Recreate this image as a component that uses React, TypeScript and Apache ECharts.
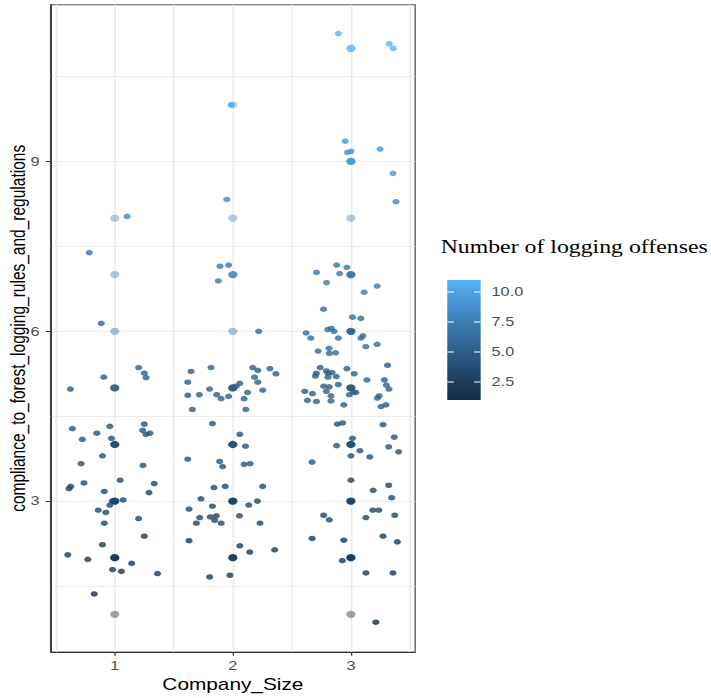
import React, { useEffect, useRef } from "react";
import * as echarts from "echarts";

// ---- data ----
const companySizes = [1, 2, 3];
const complianceTicks = [3, 6, 9];
const xGridValues = [0.5, 1, 1.5, 2, 2.5, 3, 3.5];
const yGridValues = [1.5, 3, 4.5, 6, 7.5, 9, 10.5];
const legendTicks = [2.5, 5, 7.5, 10];
const legendTickLabels = ["2.5", "5.0", "7.5", "10.0"];
const offenseRange = [1, 11];

// [Company_Size (jittered), compliance (jittered), number of logging offenses]
const size1Points = [
  [1.104, 8.03, 8], [0.784, 7.39, 7], [0.885, 6.14, 6], [1.202, 5.36, 5],
  [1.25, 5.26, 5], [1.265, 5.18, 5], [0.907, 5.19, 5], [0.624, 4.98, 5],
  [0.641, 4.28, 4], [0.958, 4.32, 4], [1.25, 4.36, 4], [1.236, 4.25, 4],
  [1.264, 4.18, 4], [1.298, 4.2, 4], [0.848, 4.2, 4], [0.725, 4.09, 4],
  [0.972, 4.11, 4], [0.896, 3.8, 4], [0.714, 3.66, 4], [1.239, 3.63, 4],
  [1.045, 3.37, 3], [1.334, 3.31, 3], [0.739, 3.32, 3], [0.627, 3.26, 3],
  [0.612, 3.22, 3], [0.911, 3.17, 3], [1.29, 3.15, 3], [0.978, 3.0, 3],
  [1.071, 3.02, 3], [0.958, 2.93, 3], [0.86, 2.84, 3], [0.924, 2.8, 3],
  [1.202, 2.69, 3], [0.911, 2.61, 3], [1.25, 2.38, 2], [0.896, 2.23, 2],
  [0.602, 2.05, 2], [0.772, 1.97, 2], [1.143, 1.9, 2], [0.981, 1.79, 2],
  [1.056, 1.76, 2], [1.362, 1.72, 2], [0.826, 1.36, 1],
];

const size2Points = [
  [1.986, 10.0, 10], [1.949, 8.33, 8], [1.891, 7.15, 7], [1.964, 7.17, 7],
  [1.877, 6.89, 7], [2.219, 6.0, 6], [1.646, 5.29, 5], [1.815, 5.36, 5],
  [2.168, 5.36, 5], [2.211, 5.31, 5], [2.314, 5.34, 5], [2.365, 5.25, 5],
  [2.183, 5.19, 5], [1.618, 5.1, 5], [2.211, 5.1, 5], [2.059, 5.08, 5],
  [2.028, 5.03, 5], [1.803, 4.98, 5], [2.253, 4.96, 5], [2.124, 4.92, 5],
  [1.618, 4.87, 5], [1.716, 4.88, 5], [1.863, 4.88, 5], [1.901, 4.81, 5],
  [1.964, 4.85, 5], [2.095, 4.81, 5], [1.657, 4.62, 5], [2.11, 4.62, 5],
  [1.827, 4.37, 4], [2.059, 4.18, 4], [2.107, 3.97, 4], [1.618, 3.74, 4],
  [1.888, 3.7, 4], [1.913, 3.61, 4], [2.095, 3.65, 4], [2.146, 3.66, 4],
  [1.84, 3.24, 3], [1.935, 3.26, 3], [2.253, 3.26, 3], [1.73, 3.04, 3],
  [2.208, 3.0, 3], [2.135, 2.93, 3], [1.629, 2.86, 3], [1.827, 2.91, 3],
  [2.056, 2.74, 3], [1.719, 2.71, 3], [1.809, 2.72, 3], [1.86, 2.74, 3],
  [1.846, 2.66, 3], [1.901, 2.61, 3], [1.691, 2.61, 3], [2.23, 2.61, 3],
  [1.629, 2.3, 2], [2.059, 2.21, 2], [2.143, 2.1, 2], [2.354, 2.14, 2],
  [1.975, 1.69, 2], [1.803, 1.66, 2],
];

const size3Points = [
  [2.893, 11.26, 11], [3.325, 11.08, 11], [3.359, 11.0, 11], [2.951, 9.36, 9],
  [2.97, 9.16, 9], [3.0, 9.18, 9], [3.247, 9.22, 9], [3.356, 8.79, 9],
  [3.382, 8.29, 8], [2.879, 7.17, 7], [2.966, 7.13, 7], [2.708, 7.04, 7],
  [2.904, 7.02, 7], [2.794, 6.86, 7], [3.222, 6.8, 7], [3.112, 6.69, 7],
  [2.768, 6.39, 6], [3.013, 6.25, 6], [3.084, 6.23, 6], [2.803, 6.03, 6],
  [2.834, 6.05, 6], [2.857, 6.0, 6], [2.62, 5.97, 6], [2.66, 5.88, 6],
  [2.893, 5.88, 6], [3.084, 5.88, 6], [3.101, 5.92, 6], [3.126, 5.73, 6],
  [3.222, 5.77, 6], [2.722, 5.65, 6], [2.815, 5.7, 6], [2.817, 5.61, 6],
  [2.87, 5.62, 6], [3.31, 5.4, 5], [2.74, 5.36, 5], [2.966, 5.34, 5],
  [2.792, 5.3, 5], [2.806, 5.26, 5], [2.84, 5.27, 5], [2.707, 5.26, 5],
  [2.699, 5.21, 5], [3.028, 5.25, 5], [2.806, 5.19, 5], [2.876, 5.2, 5],
  [3.135, 5.14, 5], [3.283, 5.14, 5], [2.893, 5.06, 5], [2.77, 5.03, 5],
  [2.817, 5.02, 5], [3.3, 5.05, 5], [2.792, 4.94, 5], [3.022, 4.92, 5],
  [3.042, 4.92, 5], [3.323, 4.98, 5], [2.609, 4.94, 5], [2.674, 4.9, 5],
  [2.831, 4.86, 5], [2.987, 4.88, 5], [3.239, 4.86, 5], [3.224, 4.82, 5],
  [2.632, 4.78, 5], [2.708, 4.76, 5], [2.831, 4.77, 5], [2.94, 4.7, 5],
  [3.255, 4.67, 5], [3.297, 4.7, 5], [2.885, 4.36, 4], [2.929, 4.38, 4],
  [3.272, 4.35, 4], [3.013, 4.11, 4], [3.367, 4.13, 4], [2.879, 3.98, 4],
  [3.32, 3.96, 4], [3.076, 3.89, 4], [3.404, 3.87, 4], [3.0, 3.8, 4],
  [3.16, 3.78, 4], [2.671, 3.69, 4], [3.0, 3.37, 3], [3.32, 3.28, 3],
  [3.188, 3.19, 3], [3.345, 3.06, 3], [3.185, 2.84, 3], [3.236, 2.84, 3],
  [2.769, 2.75, 3], [2.817, 2.67, 3], [3.127, 2.71, 3], [3.371, 2.75, 3],
  [2.671, 2.34, 2], [2.94, 2.31, 2], [3.272, 2.38, 2], [3.393, 2.28, 2],
  [2.927, 1.95, 2], [3.127, 1.73, 2], [3.356, 1.73, 2], [3.211, 0.86, 1],
];

const gradientColors = ["#132B43", "#234B6E", "#336A98", "#448BC7", "#56B1F7"];

const SANS = "'Liberation Sans', Arial, Helvetica, sans-serif";
const SERIF = "'Liberation Serif', 'Times New Roman', serif";

// whole figure was stretched horizontally
const BASE_W = 547;
const STRETCH = 711 / BASE_W;

export default function App() {
  const ref = useRef<HTMLDivElement>(null);

  useEffect(() => {
    if (!ref.current) return;
    const chart = echarts.init(ref.current, undefined, { renderer: "svg" });

    const allPoints = [...size1Points, ...size2Points, ...size3Points];

    // un-jittered observations (drawn semi-transparent underneath)
    const groups = new Map<string, { x: number; y: number; off: number; n: number }>();
    allPoints.forEach(([x, y, off]) => {
      const gx = Math.round(x);
      const gy = Math.round(y);
      const key = gx + "|" + gy;
      const g = groups.get(key);
      if (g) {
        g.off += off;
        g.n += 1;
      } else groups.set(key, { x: gx, y: gy, off, n: 1 });
    });
    const baseData = Array.from(groups.values()).map((g) => ({
      value: [g.x, g.y, g.off / g.n],
      itemStyle: { opacity: 1 - Math.pow(1 - 0.42, g.n) },
    }));

    const xMin = 0.456;
    const xMax = 3.544;
    const yMin = 0.334;
    const yMax = 11.77;

    // legend geometry (unstretched coordinates)
    const barX = 344.1;
    const barW = 25.7;
    const barTop = 280;
    const barH = 120;
    const legY = (v: number) =>
      barTop + barH - ((v - offenseRange[0]) / (offenseRange[1] - offenseRange[0])) * barH;
    const tickLen = barW * 0.2;

    const graphic: any[] = [
      {
        type: "text",
        x: 339,
        y: 247,
        style: {
          text: "Number of logging offenses",
          fontFamily: SERIF,
          fontSize: 18.3,
          fill: "#000",
          verticalAlign: "middle",
        },
      },
      {
        type: "rect",
        shape: { x: barX, y: barTop, width: barW, height: barH },
        style: {
          fill: new echarts.graphic.LinearGradient(0, 0, 0, 1, [
            { offset: 0, color: gradientColors[4] },
            { offset: 0.25, color: gradientColors[3] },
            { offset: 0.5, color: gradientColors[2] },
            { offset: 0.75, color: gradientColors[1] },
            { offset: 1, color: gradientColors[0] },
          ]),
        },
      },
    ];
    legendTicks.forEach((v, i) => {
      const ty = legY(v);
      graphic.push(
        {
          type: "line",
          shape: { x1: barX, y1: ty, x2: barX + tickLen, y2: ty },
          style: { stroke: "#fff", lineWidth: 1 },
        },
        {
          type: "line",
          shape: { x1: barX + barW - tickLen, y1: ty, x2: barX + barW, y2: ty },
          style: { stroke: "#fff", lineWidth: 1 },
        },
        {
          type: "text",
          x: 378.2,
          y: ty,
          style: {
            text: legendTickLabels[i],
            fontFamily: SANS,
            fontSize: 12.5,
            fill: "#4D4D4D",
            verticalAlign: "middle",
          },
        }
      );
    });

    const option: any = {
      animation: false,
      backgroundColor: "#ffffff",
      grid: {
        left: 38.9,
        right: BASE_W - 319.4,
        top: 4.7,
        bottom: 46,
        show: true,
        containLabel: false,
        outerBoundsMode: "none",
        borderColor: "#555",
        borderWidth: 1,
        backgroundColor: "#fff",
      },
      visualMap: {
        show: false,
        type: "continuous",
        dimension: 2,
        min: offenseRange[0],
        max: offenseRange[1],
        seriesIndex: [0, 1],
        inRange: { color: gradientColors },
      },
      xAxis: [
        {
          type: "value",
          min: xMin,
          max: xMax,
          name: "Company_Size",
          nameLocation: "middle",
          nameGap: 24,
          nameMoveOverlap: false,
          nameTextStyle: { fontFamily: SANS, fontSize: 16, color: "#000" },
          axisLine: { show: true, onZero: false, lineStyle: { color: "#333", width: 1 } },
          axisTick: { show: false, customValues: xGridValues },
          axisLabel: {
            customValues: companySizes,
            color: "#4D4D4D",
            fontSize: 12.5,
            fontFamily: SANS,
            margin: 7,
          },
          splitLine: { show: true, lineStyle: { color: "#EBEBEB", width: 1.2 } },
        },
        {
          type: "value",
          min: xMin,
          max: xMax,
          position: "bottom",
          axisLine: { show: false },
          axisLabel: { show: false },
          splitLine: { show: false },
          axisTick: {
            show: true,
            customValues: companySizes,
            length: 3.7,
            lineStyle: { color: "#333", width: 1 },
          },
        },
      ],
      yAxis: [
        {
          type: "value",
          min: yMin,
          max: yMax,
          name: "compliance_to_forest_logging_rules_and_regulations",
          nameLocation: "middle",
          nameGap: 17,
          nameMoveOverlap: false,
          nameTextStyle: { fontFamily: SANS, fontSize: 15.5, color: "#000" },
          axisLine: { show: true, onZero: false, lineStyle: { color: "#333", width: 1 } },
          axisTick: { show: false, customValues: yGridValues },
          axisLabel: {
            customValues: complianceTicks,
            color: "#4D4D4D",
            fontSize: 12.5,
            fontFamily: SANS,
            margin: 8.5,
          },
          splitLine: { show: true, lineStyle: { color: "#EBEBEB", width: 1.2 } },
        },
        {
          type: "value",
          min: yMin,
          max: yMax,
          position: "left",
          axisLine: { show: false },
          axisLabel: { show: false },
          splitLine: { show: false },
          axisTick: {
            show: true,
            customValues: complianceTicks,
            length: 3.7,
            lineStyle: { color: "#333", width: 1 },
          },
        },
      ],
      series: [
        {
          type: "scatter",
          name: "observations",
          data: baseData,
          symbol: "circle",
          symbolSize: 7.2,
          z: 2,
          silent: true,
          emphasis: { disabled: true },
        },
        {
          type: "scatter",
          name: "jittered",
          data: allPoints,
          symbol: "circle",
          symbolSize: 5.5,
          z: 3,
          silent: true,
          emphasis: { disabled: true },
        },
      ],
      graphic,
    };

    chart.setOption(option);
    return () => chart.dispose();
  }, []);

  return (
    <div
      style={{
        position: "fixed",
        left: 0,
        top: 0,
        width: 711,
        height: 698,
        overflow: "hidden",
        background: "#fff",
      }}
    >
      <div
        ref={ref}
        style={{
          width: BASE_W,
          height: 698,
          transform: `scaleX(${STRETCH})`,
          transformOrigin: "0 0",
        }}
      />
    </div>
  );
}
